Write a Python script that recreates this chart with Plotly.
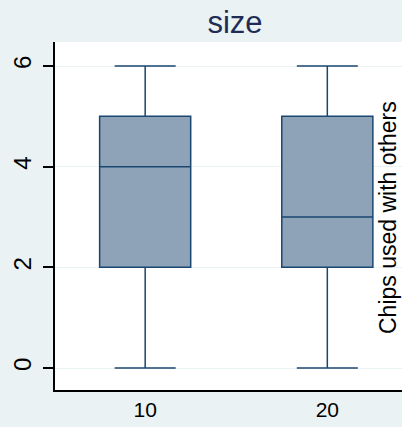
import plotly.graph_objects as go

categories = ["10", "20"]
q1_vals = [2, 2]
median_vals = [4, 3]
q3_vals = [5, 5]
lower_vals = [0, 0]
upper_vals = [6, 6]
y_ticks = [0, 2, 4, 6]
title_text = "size"
side_label = "Chips used with others"

fig = go.Figure()
fig.add_trace(go.Box(
    x=categories,
    q1=q1_vals, median=median_vals, q3=q3_vals,
    lowerfence=lower_vals, upperfence=upper_vals,
    fillcolor="rgb(142,162,184)",
    line=dict(color="#1a476f", width=1.5),
    width=0.5,
    whiskerwidth=0.67,
    boxpoints=False,
    showlegend=False,
    hoverinfo="skip",
))

fig.update_layout(
    width=402, height=427,
    margin=dict(l=55, r=0, t=42, b=37),
    paper_bgcolor="#eaf2f3",
    plot_bgcolor="white",
    font=dict(family="Liberation Sans, Arial, sans-serif", size=21, color="black"),
    title=dict(text=title_text, x=235/402, xanchor="center", y=1-22/427, yanchor="middle",
               font=dict(size=31, color="#1f2d56")),
    xaxis=dict(
        type="category", range=[-0.495, 1.41],
        showline=True, linecolor="black", linewidth=1.5,
        ticks="", showgrid=False, zeroline=False,
        tickfont=dict(size=21),
    ),
    yaxis=dict(
        range=[-0.437, 6.477],
        tickvals=y_ticks, ticktext=[str(v) for v in y_ticks],
        tickangle=-90,
        showline=True, linecolor="black", linewidth=1.5,
        ticks="outside", ticklen=10, tickcolor="black", tickwidth=1.5,
        ticklabelstandoff=3,
        showgrid=True, gridcolor="#eaf2f3", gridwidth=1,
        zeroline=False,
        tickfont=dict(size=24),
    ),
    annotations=[dict(
        text=side_label, xref="paper", yref="paper",
        x=(388-55)/347, y=(390-218)/348, xanchor="center", yanchor="middle",
        textangle=-90, showarrow=False, font=dict(size=23, color="black"),
    )],
)

fig.write_html(
    "out.html",
    config={"displayModeBar": False},
    post_script="document.body.style.margin='0';document.body.style.overflow='hidden';",
)
